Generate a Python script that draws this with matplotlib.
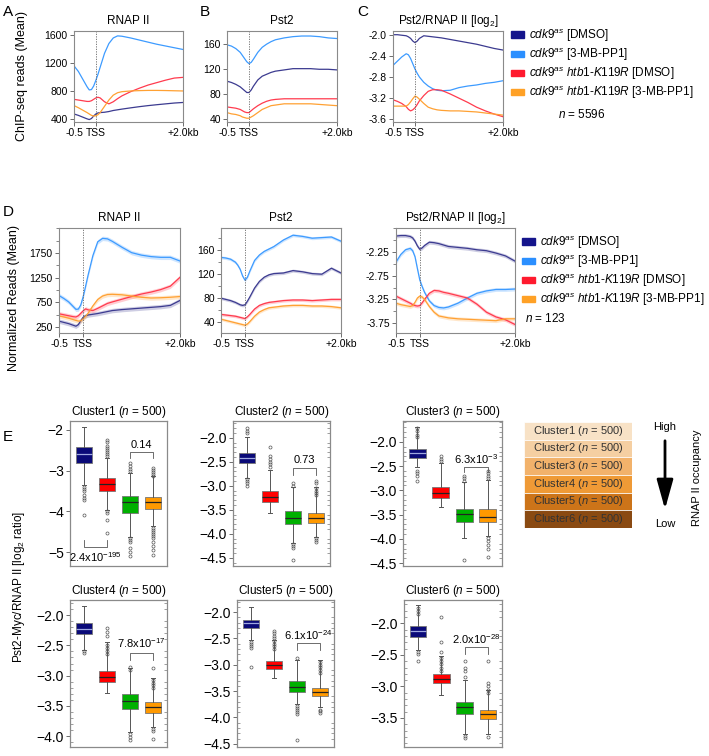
import numpy as np
import matplotlib
matplotlib.use('Agg')
import matplotlib.pyplot as plt
from matplotlib.patches import Patch, FancyArrowPatch
from matplotlib.ticker import MultipleLocator

plt.rcParams['font.family'] = ['Liberation Sans', 'DejaVu Sans']
plt.rcParams['mathtext.fontset'] = 'custom'
plt.rcParams['mathtext.rm'] = 'Liberation Sans'
plt.rcParams['mathtext.it'] = 'Liberation Sans:italic'

W, H = 709, 756

# ---------------- data: metagene profiles (kb from TSS) ----------------
x_grid = [-0.5, -0.4, -0.3, -0.2, -0.15, -0.1, -0.05, 0, 0.05, 0.1, 0.2, 0.3,
          0.4, 0.5, 0.6, 0.8, 1.0, 1.2, 1.4, 1.6, 1.8, 2.0]

# panel A (n = 5596) RNAP II
a_dmso = [470, 450, 425, 400, 390, 405, 440, 470, 485, 490, 495, 505, 520, 530, 540, 558, 575, 590, 603, 615, 627, 635]
a_mb = [1160, 1080, 970, 860, 815, 820, 870, 950, 1040, 1140, 1340, 1480, 1560, 1590, 1585, 1560, 1530, 1500, 1470, 1445, 1420, 1395]
a_k_dmso = [680, 670, 660, 650, 650, 660, 680, 700, 710, 700, 645, 615, 645, 690, 730, 790, 840, 885, 920, 955, 985, 995]
a_k_mb = [590, 560, 525, 490, 470, 450, 440, 445, 460, 490, 580, 670, 740, 775, 790, 800, 805, 808, 808, 806, 803, 800]

# panel B Pst2
b_dmso = [100, 98, 95, 91, 88, 85, 82, 82, 86, 92, 102, 108, 111, 114, 116, 118, 120, 120, 120, 119, 119, 118]
b_mb = [158, 156, 152, 146, 141, 136, 131, 128, 130, 135, 146, 154, 159, 163, 166, 169, 171, 172, 172, 171, 169, 168]
b_k_dmso = [59, 58, 57, 55, 53, 51, 50, 50, 53, 56, 61, 65, 68, 70, 71, 72, 72, 72, 72, 72, 72, 72]
b_k_mb = [50, 48, 47, 45, 43, 42, 41, 41, 43, 45, 50, 55, 58, 61, 62, 64, 64, 64, 64, 63, 62, 61]

# panel C Pst2/RNAP II [log2]
c_dmso = [-2.0, -2.0, -2.01, -2.02, -2.04, -2.07, -2.12, -2.15, -2.12, -2.07, -2.02, -2.03, -2.04, -2.05, -2.06, -2.09, -2.12, -2.15, -2.18, -2.22, -2.26, -2.29]
c_mb = [-2.58, -2.5, -2.42, -2.36, -2.38, -2.45, -2.55, -2.65, -2.73, -2.8, -2.9, -2.97, -3.02, -3.05, -3.06, -3.05, -3.0, -2.97, -2.95, -2.92, -2.9, -2.87]
c_k_dmso = [-3.23, -3.26, -3.3, -3.36, -3.41, -3.44, -3.42, -3.38, -3.32, -3.25, -3.15, -3.07, -3.04, -3.04, -3.05, -3.12, -3.2, -3.28, -3.37, -3.44, -3.5, -3.55]
c_k_mb = [-3.35, -3.35, -3.35, -3.35, -3.32, -3.27, -3.21, -3.16, -3.18, -3.22, -3.3, -3.37, -3.4, -3.42, -3.43, -3.44, -3.44, -3.45, -3.46, -3.48, -3.5, -3.52]

# panel D (n = 123)
d1_dmso = [370, 345, 320, 285, 268, 300, 380, 450, 480, 495, 510, 525, 545, 565, 585, 605, 620, 635, 650, 665, 690, 790]
d1_mb = [890, 830, 760, 660, 610, 615, 700, 870, 1080, 1300, 1700, 1980, 2050, 2040, 1990, 1870, 1760, 1710, 1680, 1665, 1665, 1590]
d1_k_dmso = [520, 500, 480, 460, 455, 480, 530, 580, 620, 600, 585, 630, 680, 730, 760, 815, 870, 920, 960, 1010, 1080, 1260]
d1_k_mb = [475, 455, 430, 400, 385, 372, 375, 420, 470, 530, 680, 810, 880, 910, 915, 905, 880, 855, 840, 845, 855, 870]

d2_dmso = [80, 78, 76, 73, 71, 69, 68, 69, 75, 82, 97, 108, 115, 119, 121, 122, 126, 124, 121, 120, 130, 122]
d2_mb = [148, 147, 145, 140, 135, 128, 117, 110, 115, 125, 143, 152, 158, 162, 166, 177, 185, 183, 180, 181, 182, 175]
d2_k_dmso = [53, 52, 51, 50, 49, 48, 47, 46, 49, 53, 62, 68, 71, 73, 74, 76, 77, 77, 76, 77, 78, 78]
d2_k_mb = [45, 43, 41, 39, 38, 37, 36, 35, 37, 41, 50, 57, 61, 64, 65, 67, 68, 68, 67, 67, 66, 64]

d3_dmso = [-1.91, -1.9, -1.9, -1.92, -1.95, -2.02, -2.12, -2.19, -2.16, -2.11, -2.04, -2.05, -2.07, -2.1, -2.13, -2.15, -2.17, -2.2, -2.22, -2.27, -2.33, -2.44]
d3_mb = [-2.46, -2.3, -2.2, -2.17, -2.22, -2.35, -2.6, -2.84, -2.98, -3.1, -3.28, -3.38, -3.42, -3.43, -3.41, -3.33, -3.22, -3.12, -3.07, -3.04, -3.04, -3.03]
d3_k_dmso = [-3.18, -3.23, -3.28, -3.33, -3.36, -3.38, -3.39, -3.38, -3.32, -3.25, -3.12, -3.06, -3.07, -3.1, -3.12, -3.17, -3.22, -3.35, -3.52, -3.62, -3.68, -3.78]
d3_k_mb = [-3.33, -3.36, -3.38, -3.4, -3.38, -3.31, -3.22, -3.18, -3.2, -3.25, -3.4, -3.52, -3.6, -3.62, -3.64, -3.66, -3.67, -3.68, -3.69, -3.7, -3.66, -3.66]

# ---------------- data: cluster box plots (log2 ratio) ----------------
# order: navy, red, green, orange
c1_med = [-2.59, -3.32, -3.78, -3.76]
c1_q1 = [-2.80, -3.50, -4.03, -3.95]
c1_q3 = [-2.43, -3.19, -3.62, -3.64]
c1_lo = [-3.35, -3.96, -4.62, -4.37]
c1_hi = [-1.92, -2.70, -3.06, -3.14]
c1_fl = [[-3.39, -3.45, -3.5, -3.6, -3.68, -3.72, -4.08],
         [-2.25, -2.3, -2.4, -2.45, -2.5, -2.55, -2.6, -2.65, -4.0, -4.05, -4.2, -4.53],
         [-2.82, -2.88, -2.95, -3.0, -4.66, -4.7, -4.75, -4.9, -5.0, -5.1],
         [-2.94, -2.98, -3.02, -3.07, -3.12, -4.41, -4.45, -4.5, -4.55, -4.6, -4.65, -4.75, -4.85, -4.95, -5.07]]

c2_med = [-2.42, -3.23, -3.67, -3.67]
c2_q1 = [-2.52, -3.33, -3.79, -3.77]
c2_q3 = [-2.31, -3.10, -3.52, -3.56]
c2_lo = [-2.83, -3.56, -4.19, -4.06]
c2_hi = [-1.98, -2.67, -3.02, -3.02]
c2_fl = [[-1.8, -1.85, -1.9, -2.86, -2.9, -2.95, -3.0],
         [-2.19, -2.37, -2.45, -2.5, -2.55, -2.6],
         [-2.95, -3.0, -4.22, -4.26, -4.3, -4.54],
         [-2.9, -2.95, -3.05, -3.1, -3.15, -3.2, -4.08, -4.12, -4.16]]

c3_med = [-2.23, -3.05, -3.48, -3.54]
c3_q1 = [-2.33, -3.15, -3.65, -3.65]
c3_q3 = [-2.15, -2.93, -3.38, -3.38]
c3_lo = [-2.51, -3.34, -3.98, -3.95]
c3_hi = [-1.69, -2.43, -2.82, -2.78]
c3_fl = [[-1.72, -1.78, -1.85, -1.9, -2.6, -2.65, -2.7, -2.8],
         [-2.3, -2.35, -2.4],
         [-2.7, -2.75, -2.8, -4.43],
         [-2.6, -2.65, -2.7, -2.75, -3.98, -4.05, -4.12, -4.2, -4.37]]

c4_med = [-2.23, -3.02, -3.42, -3.52]
c4_q1 = [-2.32, -3.11, -3.56, -3.62]
c4_q3 = [-2.13, -2.93, -3.31, -3.44]
c4_lo = [-2.58, -3.29, -3.94, -3.85]
c4_hi = [-1.85, -2.45, -2.88, -3.04]
c4_fl = [[-2.6, -2.62],
         [-2.22, -2.28, -2.35, -2.5, -2.55, -2.6, -2.65],
         [-2.86, -2.9, -3.97, -4.02, -4.07],
         [-2.87, -3.07, -3.12, -3.16, -3.2, -3.88, -3.92, -4.05]]

c5_med = [-2.21, -3.0, -3.42, -3.51]
c5_q1 = [-2.30, -3.08, -3.51, -3.60]
c5_q3 = [-2.15, -2.92, -3.30, -3.44]
c5_lo = [-2.53, -3.25, -3.75, -3.81]
c5_hi = [-1.9, -2.53, -2.91, -2.91]
c5_fl = [[-2.56, -2.6, -2.65, -2.69, -3.04],
         [-2.35, -2.4, -2.45, -2.5, -2.55, -2.6, -2.65, -2.7],
         [-2.88, -3.78, -3.82, -3.86, -3.9, -3.94, -4.42],
         [-2.95, -3.0, -3.05, -3.1, -3.15, -3.85, -3.88, -3.92]]

c6_med = [-2.12, -2.89, -3.33, -3.44]
c6_q1 = [-2.21, -2.95, -3.44, -3.52]
c6_q3 = [-2.05, -2.81, -3.24, -3.37]
c6_lo = [-2.43, -3.13, -3.75, -3.75]
c6_hi = [-1.71, -2.51, -2.9, -3.06]
c6_fl = [[-1.75, -1.8, -1.85, -2.45, -2.48, -2.59],
         [-1.9, -2.3, -2.45, -2.55, -2.6, -2.65, -2.7, -2.75],
         [-2.6, -2.7, -2.75, -2.85, -3.78, -3.82],
         [-2.6, -2.95, -3.0, -3.05, -3.1, -3.8]]

p_values = ['2.4x10$^{-195}$', '0.14', '0.73', '6.3x10$^{-3}$', '7.8x10$^{-17}$', '6.1x10$^{-24}$', '2.0x10$^{-28}$']

cluster_names = ['Cluster1', 'Cluster2', 'Cluster3', 'Cluster4', 'Cluster5', 'Cluster6']
cluster_colors = ['#F8E2C6', '#F5CFA2', '#F2B26B', '#EF9A36', '#CC7419', '#8A4A12']

line_colors = ['#3C3B90', '#3D9BFF', '#FF3B4E', '#FFA133']
patch_colors = ['#15158C', '#2B8FFF', '#FF1A2E', '#FFA126']
box_colors = ['#0A0A78', '#FF0000', '#00B000', '#FF9900']

legend_labels = [r'$\mathit{cdk9}^{\mathit{as}}$ [DMSO]',
                 r'$\mathit{cdk9}^{\mathit{as}}$ [3-MB-PP1]',
                 r'$\mathit{cdk9}^{\mathit{as}}$ $\mathit{htb1}$-$\mathit{K119R}$ [DMSO]',
                 r'$\mathit{cdk9}^{\mathit{as}}$ $\mathit{htb1}$-$\mathit{K119R}$ [3-MB-PP1]']


def box(x0, y0, x1, y1):
    return [x0 / W, 1 - y1 / H, (x1 - x0) / W, (y1 - y0) / H]


fig = plt.figure(figsize=(W / 100, H / 100), dpi=100)

frame_col = '#8a8a8a'


def profile(rect, series, ylim, yticks, title, band=None, minor=None, fmt=None):
    ax = fig.add_axes(box(*rect))
    for y, c in zip(series, line_colors):
        y = np.array(y, dtype=float)
        if band is not None:
            ax.fill_between(x_grid, y - band, y + band, color=c, alpha=0.25, lw=0)
        ax.plot(x_grid, y, color=c, lw=0.9)
    ax.axvline(0, color='#666666', ls=(0, (1.5, 1.5)), lw=0.6)
    ax.set_xlim(-0.5, 2.0)
    ax.set_ylim(*ylim)
    ax.set_yticks(yticks)
    if fmt:
        ax.set_yticklabels([fmt.format(v) for v in yticks])
    if minor:
        ax.yaxis.set_minor_locator(MultipleLocator(minor))
    ax.set_xticks([-0.5, 0, 2.0])
    ax.set_xticklabels(['-0.5', 'TSS', '+2.0kb'])
    ax.tick_params(labelsize=7.5, length=3, width=0.6, color='#555555', pad=1.5)
    ax.tick_params(which='minor', length=2, width=0.5, color='#555555')
    for s in ax.spines.values():
        s.set_color(frame_col)
        s.set_linewidth(0.8)
    ax.set_title(title, fontsize=8.5, pad=5)
    return ax


# ---- top row ----
profile((74, 31, 183, 122), [a_dmso, a_mb, a_k_dmso, a_k_mb], (355, 1660),
        [400, 800, 1200, 1600], 'RNAP II')
profile((227, 31, 337, 122), [b_dmso, b_mb, b_k_dmso, b_k_mb], (35, 180),
        [40, 80, 120, 160], 'Pst2')
profile((393, 31, 503, 122), [c_dmso, c_mb, c_k_dmso, c_k_mb], (-3.65, -1.93),
        [-3.6, -3.2, -2.8, -2.4, -2.0], r'Pst2/RNAP II [log$_2$]', fmt='{:.1f}')
fig.text(22 / W, 1 - 76 / H, 'ChIP-seq reads (Mean)', rotation=90, ha='center', va='center',
         fontsize=9)

# ---- panel D ----
profile((59, 228, 180, 333), [d1_dmso, d1_mb, d1_k_dmso, d1_k_mb], (130, 2260),
        [250, 750, 1250, 1750], 'RNAP II', band=45, minor=250)
profile((221, 228, 341, 333), [d2_dmso, d2_mb, d2_k_dmso, d2_k_mb], (22, 197),
        [40, 80, 120, 160], 'Pst2', band=2.5, minor=20)
profile((396, 228, 515, 333), [d3_dmso, d3_mb, d3_k_dmso, d3_k_mb], (-3.96, -1.74),
        [-3.75, -3.25, -2.75, -2.25], r'Pst2/RNAP II [log$_2$]', band=0.04, minor=0.25,
        fmt='{:.2f}')
fig.text(14 / W, 1 - 298 / H, 'Normalized Reads (Mean)', rotation=90, ha='center', va='center',
         fontsize=9)

# legends
handles = [Patch(color=c) for c in patch_colors]
for x_leg, y_top, n_txt, n_x, n_y in [(511, 27, '$\\mathit{n}$ = 5596', 558, 115),
                                      (522, 234, '$\\mathit{n}$ = 123', 525, 318)]:
    fig.legend(handles, legend_labels, loc='upper left', bbox_to_anchor=(x_leg / W, 1 - y_top / H),
               frameon=False, fontsize=8.5, handlelength=1.1, handleheight=0.45,
               handletextpad=0.45, labelspacing=0.2, borderaxespad=0, borderpad=0)
    fig.text(n_x / W, 1 - n_y / H, n_txt, fontsize=8.5, va='center')

# ---- panel E ----
clusters = [
    (c1_med, c1_q1, c1_q3, c1_lo, c1_hi, c1_fl),
    (c2_med, c2_q1, c2_q3, c2_lo, c2_hi, c2_fl),
    (c3_med, c3_q1, c3_q3, c3_lo, c3_hi, c3_fl),
    (c4_med, c4_q1, c4_q3, c4_lo, c4_hi, c4_fl),
    (c5_med, c5_q1, c5_q3, c5_lo, c5_hi, c5_fl),
    (c6_med, c6_q1, c6_q3, c6_lo, c6_hi, c6_fl),
]
e_rects = [(70, 421, 167, 566), (233, 421, 330, 566), (403, 421, 502, 566),
           (70, 600, 167, 747), (237, 600, 334, 747), (404, 600, 502, 747)]
e_ylims = [(-5.34, -1.78), (-4.67, -1.65), (-4.56, -1.57),
           (-4.18, -1.75), (-4.56, -1.77), (-3.96, -1.63)]
e_ticks = [[-2, -3, -4, -5], [-2.0, -2.5, -3.0, -3.5, -4.0, -4.5], [-2.0, -2.5, -3.0, -3.5, -4.0, -4.5],
           [-2.0, -2.5, -3.0, -3.5, -4.0], [-2.0, -2.5, -3.0, -3.5, -4.0, -4.5], [-2.0, -2.5, -3.0, -3.5]]
# bracket: (x1, x2, y_bar, y_leg, y_text, p index)
e_brackets = [[(1, 2, -4.88, -4.70, -5.12, 0), (3, 4, -2.55, -2.69, -2.37, 1)],
              [(3, 4, -2.63, -2.77, -2.47, 2)],
              [(3, 4, -2.51, -2.62, -2.35, 3)],
              [(3, 4, -2.63, -2.74, -2.47, 4)],
              [(3, 4, -2.58, -2.72, -2.43, 5)],
              [(3, 4, -2.38, -2.48, -2.25, 6)]]

for k, (st, rect) in enumerate(zip(clusters, e_rects)):
    ax = fig.add_axes(box(*rect))
    med, q1, q3, lo, hi, fl = st
    stats = [dict(med=med[i], q1=q1[i], q3=q3[i], whislo=lo[i], whishi=hi[i], fliers=fl[i])
             for i in range(4)]
    bp = ax.bxp(stats, positions=[1, 2, 3, 4], widths=0.72, patch_artist=True,
                showcaps=True, capwidths=0.18,
                boxprops=dict(edgecolor='#777777', linewidth=0.6),
                whiskerprops=dict(color='#555555', linewidth=0.7),
                capprops=dict(color='#555555', linewidth=0.7),
                medianprops=dict(color='#222222', linewidth=0.9),
                flierprops=dict(marker='o', markersize=2.2, markerfacecolor='none',
                                markeredgecolor='#555555', markeredgewidth=0.5))
    for patch, c in zip(bp['boxes'], box_colors):
        patch.set_facecolor(c)
    bp['medians'][0].set_color('#9fa8e0')
    ax.set_xlim(0.4, 4.6)
    ax.set_ylim(*e_ylims[k])
    ax.set_yticks(e_ticks[k])
    if k == 0:
        ax.set_yticklabels(['\u22122', '\u22123', '\u22124', '\u22125'])
    else:
        ax.set_yticklabels(['\u2212{:.1f}'.format(-v) for v in e_ticks[k]])
        ax.yaxis.set_minor_locator(MultipleLocator(0.1))
        ax.tick_params(which='minor', left=True, right=True, direction='in', length=2,
                       width=0.5, color='#777777')
    ax.set_xticks([])
    ax.tick_params(axis='y', labelsize=10, length=3, width=0.6, color='#555555', pad=1.5)
    for s in ax.spines.values():
        s.set_color(frame_col)
        s.set_linewidth(0.9)
    ax.set_title(r'%s ($\mathit{n}$ = 500)' % cluster_names[k], fontsize=8.5, pad=4)
    for x1, x2, yb, yl, yt, pi in e_brackets[k]:
        ax.plot([x1, x1, x2, x2], [yl, yb, yb, yl], color='#555555', lw=0.6)
        ax.text((x1 + x2) / 2, yt, p_values[pi], ha='center', va='center', fontsize=8)

fig.text(19 / W, 1 - 587 / H, r'Pst2-Myc/RNAP II [log$_2$ ratio]', rotation=90,
         ha='center', va='center', fontsize=8.5)

# cluster colour key
axk = fig.add_axes(box(524, 422, 632, 528))
axk.barh(range(6), [1] * 6, height=1.0, color=cluster_colors, edgecolor='white', linewidth=0.5)
for i, name in enumerate(cluster_names):
    axk.text(0.5, i, r'%s ($\mathit{n}$ = 500)' % name, ha='center', va='center',
             fontsize=8, color='#333333')
axk.set_xlim(0, 1)
axk.set_ylim(5.5, -0.5)
axk.axis('off')

arrow = FancyArrowPatch((665 / W, 1 - 438 / H), (665 / W, 1 - 512 / H), transform=fig.transFigure,
                        arrowstyle='-|>,head_length=1.8,head_width=0.5', mutation_scale=10,
                        lw=2.0, color='black')
fig.add_artist(arrow)
fig.text(665 / W, 1 - 427 / H, 'High', ha='center', va='center', fontsize=8)
fig.text(665 / W, 1 - 524 / H, 'Low', ha='center', va='center', fontsize=8)
fig.text(697 / W, 1 - 478 / H, 'RNAP II occupancy', rotation=90, ha='center', va='center', fontsize=8)

# panel letters
for letter, px, py in [('A', 8, 12), ('B', 205, 12), ('C', 363, 12), ('D', 8, 212), ('E', 8, 437)]:
    fig.text(px / W, 1 - py / H, letter, fontsize=11, ha='center', va='center')

fig.savefig('out.png', dpi=100)
